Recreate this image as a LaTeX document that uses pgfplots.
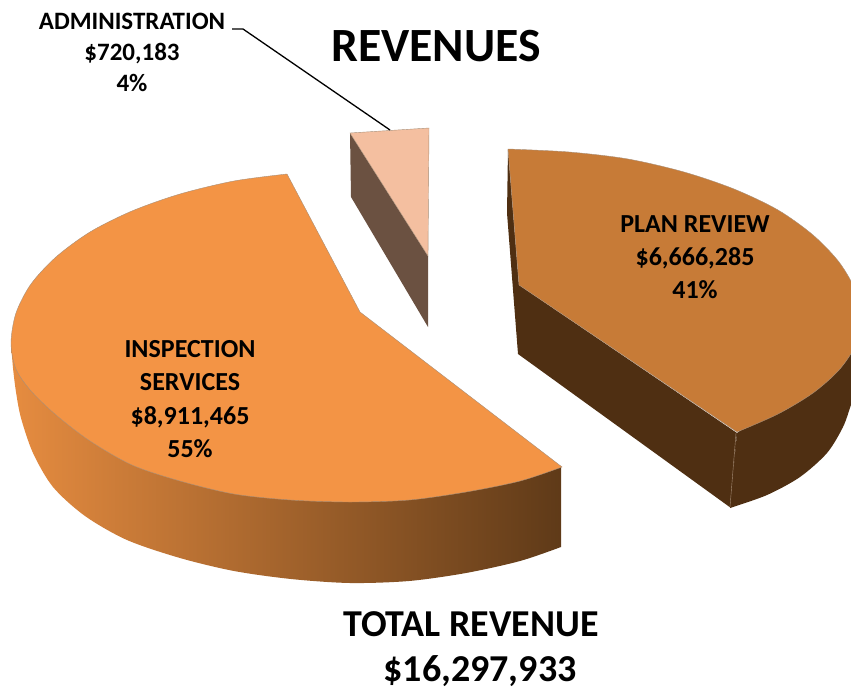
\documentclass[border=0pt]{standalone}
\usepackage{pgfplots}
\pgfplotsset{compat=1.18}
\usepackage{fontspec}
\setmainfont{Carlito}
\definecolor{insptop}{HTML}{F39445}
\definecolor{inspa}{HTML}{E68C40}
\definecolor{inspb}{HTML}{95592A}
\definecolor{inspc}{HTML}{5F3A18}
\definecolor{plantop}{HTML}{C77B37}
\definecolor{planside}{HTML}{4F2F12}
\definecolor{admintop}{HTML}{F4BFA0}
\definecolor{adminside}{HTML}{6B5141}
\definecolor{edge}{HTML}{A88F78}
\tikzset{
  lbl/.style={font=\bfseries\fontsize{26}{33.3}\selectfont, align=center, text=black},
  lbls/.style={font=\bfseries\fontsize{25}{31}\selectfont, align=center, text=black},
  big/.style={font=\bfseries\fontsize{38}{44}\selectfont},
}
\begin{document}
\begin{tikzpicture}
\useasboundingbox (0,0) rectangle (851pt,690pt);
\begin{axis}[
    at={(0,0)}, anchor=south west,
    scale only axis, width=851pt, height=690pt,
    xmin=0, xmax=851, ymin=0, ymax=690,
    y dir=reverse, hide axis,
    every axis plot/.append style={no markers},
]
% inspection services: wall, then top face
\addplot[smooth, draw=none, left color=inspa, middle color=inspb, right color=inspc] coordinates {
    (561,547) (520,561) (466,573) (409,581) (350,583) (291,579) (234,571) (180,558)
    (127,540) (85,516) (53,487) (33,453) (21,418) (16,392) (13,368) (11,343)} -- (axis cs:561,466) -- cycle;
\addplot[smooth, draw=edge, thin, fill=insptop] coordinates {
    (562,467) (520,481) (466,492) (409,500) (350,502) (291,500) (234,494) (180,481)
    (132,465) (90,441) (56,415) (31,391) (16,369) (11,343) (16,313) (31,284) (56,257)
    (90,232) (132,211) (180,194) (234,181) (287,174)} -- (axis cs:360,312) -- cycle;
% administration
\addplot[draw=none, fill=adminside] coordinates {(350,133) (428,256) (428,327) (351,197)} -- cycle;
\addplot[draw=edge, thin, fill=admintop] coordinates {(350,133) (429,128) (428,256)} -- cycle;
% plan review: walls, then top face
\addplot[draw=none, fill=planside] coordinates {(508,149) (507,213) (513,290) (518,354) (731,508) (737,433) (519,285)} -- cycle;
\addplot[smooth, draw=none, fill=planside] coordinates {
    (730,508) (767,495) (800,477) (827,453) (843,427) (851,405) (862,375)} -- (axis cs:851,352) -- (axis cs:737,433) -- cycle;
\addplot[smooth, draw=edge, thin, fill=plantop] coordinates {
    (508,149) (569,152) (628,159) (684,172) (734,189) (778,210) (813,235) (839,262)
    (855,290) (860,320) (855,346) (839,370) (813,393) (778,414) (737,432)} -- (axis cs:519,285) -- cycle;
\addplot[draw=edge, thin] coordinates {(736,433) (730,507)};
% leader line
\addplot[black, line width=1.3pt] coordinates {(232,29) (243,29) (390,130)};
% text
\node[font=\bfseries\fontsize{47.7}{50}\selectfont] at (axis cs:436,46) {REVENUES};
\node[lbls] at (axis cs:132,52) {ADMINISTRATION\\\$720,183\\4\%};
\node[lbl] at (axis cs:695,257) {PLAN REVIEW\\\$6,666,285\\41\%};
\node[lbl] at (axis cs:190,399) {INSPECTION\\SERVICES\\\$8,911,465\\55\%};
\node[big] at (axis cs:471,624) {TOTAL REVENUE};
\node[big] at (axis cs:480,671) {\$16,297,933};
\end{axis}
\end{tikzpicture}
\end{document}
